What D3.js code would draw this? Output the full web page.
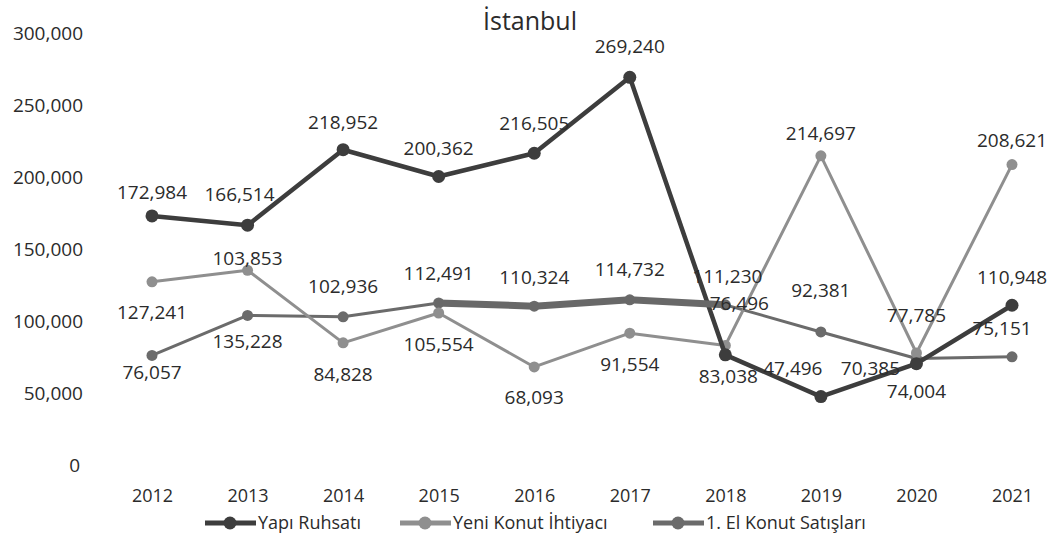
<!DOCTYPE html>
<html>
<head>
<meta charset="utf-8">
<script src="https://cdn.jsdelivr.net/npm/d3@7"></script>
<style>
  body { margin: 0; background: #fff; }
  svg text { font-family: "Open Sans", "Noto Sans", sans-serif; fill: #2b2b2b; }
</style>
</head>
<body>
<div id="chart"></div>
<script>
// istanbul - housing chart

var years = ["2012","2013","2014","2015","2016","2017","2018","2019","2020","2021"];
var yapiRuhsati = [172984,166514,218952,200362,216505,269240,76496,47496,70385,110948];
var yeniKonut = [127241,135228,84828,105554,68093,91554,83038,214697,77785,208621];
var elKonut = [76057,103853,102936,112491,110324,114732,111230,92381,74004,75151];
var yTicks = [0,50000,100000,150000,200000,250000,300000];
var seriesNames = ["Yapı Ruhsatı","Yeni Konut İhtiyacı","1. El Konut Satışları"];

// label offsets (dx,dy) for each point, per series
var offDark = [[0,-22],[-8,-29],[0,-26],[0,-27],[0,-28],[0,-29],[14,-50],[-28,-27],[-46,6],[0,-26]];
var offLight = [[0,32],[0,73],[0,33],[0,33],[0,32],[0,33],[3,32],[0,-21],[0,-36],[0,-23]];
var offMid = [[0,18],[0,-56],[0,-29],[0,-28],[0,-27],[0,-29],[2,-27],[0,-40],[0,34],[-10,-27]];

var width = 1056, height = 545;
var svg = d3.select("#chart").append("svg")
    .attr("width", width)
    .attr("height", height);

var x = d3.scalePoint().domain(years).range([152, 1012]);
var y = d3.scaleLinear().domain([0, 300000]).range([465, 33]);
var fmt = d3.format(",");

// title
svg.append("text")
    .attr("x", 530).attr("y", 30)
    .attr("text-anchor", "middle")
    .style("font-size", "25px")
    .text("İstanbul");

// y axis
var yAxis = d3.axisLeft(y).tickValues(yTicks).tickFormat(fmt).tickSize(0).tickPadding(0);
var gy = svg.append("g").attr("transform", "translate(83,0)").call(yAxis);
gy.select(".domain").remove();
gy.selectAll("text").style("font-size", "19px").style("font-family", "'Open Sans', sans-serif").attr("fill", "#2b2b2b");
gy.selectAll(".tick").filter(function(d){ return d === 0; }).select("text").attr("dx", -3);

// x axis
var xAxis = d3.axisBottom(x).tickSize(0).tickPadding(0);
var gx = svg.append("g").attr("transform", "translate(0,489)").call(xAxis);
gx.select(".domain").remove();
gx.selectAll("text").style("font-size", "18px").style("font-family", "'Open Sans', sans-serif").attr("fill", "#2b2b2b");

var series = [
  {name: seriesNames[0], values: yapiRuhsati, color: "#3d3d3d", w: 4.5, r: 6.5, off: offDark},
  {name: seriesNames[1], values: yeniKonut, color: "#8f8f8f", w: 3, r: 5.5, off: offLight},
  {name: seriesNames[2], values: elKonut, color: "#6b6b6b", w: 3, r: 5.5, off: offMid}
];

var line = d3.line()
    .x(function(d, i){ return x(years[i]); })
    .y(function(d){ return y(d); });

// draw order: medium, light, dark on top
[series[2], series[1], series[0]].forEach(function(s) {
  svg.append("path")
      .attr("d", line(s.values))
      .attr("fill", "none")
      .attr("stroke", s.color)
      .attr("stroke-width", s.w)
      .attr("stroke-linejoin", "round");
  svg.selectAll(null).data(s.values).enter().append("circle")
      .attr("cx", function(d, i){ return x(years[i]); })
      .attr("cy", function(d){ return y(d); })
      .attr("r", s.r)
      .attr("fill", s.color);
});

// thick stroke over 1. El Konut 2015-2018
var thick = d3.line()
    .x(function(d){ return x(d); })
    .y(function(d){ return y(elKonut[years.indexOf(d)]); });
svg.append("path")
    .attr("d", thick(years.slice(3, 7)))
    .attr("fill", "none")
    .attr("stroke", "#686868")
    .attr("stroke-width", 7)
    .attr("stroke-linecap", "square");

// data labels
series.forEach(function(s) {
  svg.selectAll(null).data(s.values).enter().append("text")
      .attr("x", function(d, i){ return x(years[i]) + s.off[i][0]; })
      .attr("y", function(d, i){ return y(d) + s.off[i][1]; })
      .attr("text-anchor", "middle")
      .attr("dominant-baseline", "middle")
      .style("font-size", "19px")
      .text(function(d){ return fmt(d); });
});

// legend
var legX = [205, 400, 653];
series.forEach(function(s, i) {
  var g = svg.append("g").attr("transform", "translate(" + legX[i] + ",523)");
  g.append("line").attr("x1", 0).attr("x2", 51).attr("y1", 0).attr("y2", 0)
      .attr("stroke", s.color).attr("stroke-width", 5);
  g.append("circle").attr("cx", 25).attr("cy", 0).attr("r", 6.5).attr("fill", s.color);
  g.append("text").attr("x", 53).attr("y", 1)
      .attr("dominant-baseline", "middle")
      .style("font-size", "18px")
      .text(s.name);
});
</script>
</body>
</html>
